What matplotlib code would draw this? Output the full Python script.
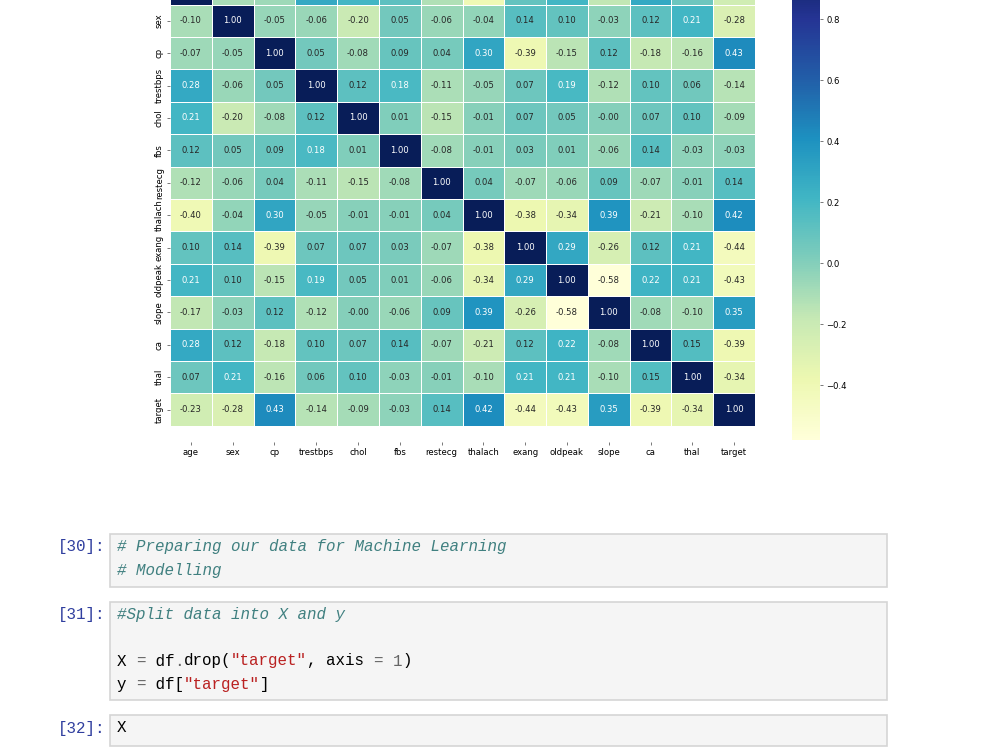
import numpy as np
import pandas as pd
import matplotlib
matplotlib.use("Agg")
import matplotlib.pyplot as plt
import seaborn as sns
from matplotlib.patches import Rectangle


# -------------------------------------------------
# Data: correlation matrix of the heart disease dataset
# -------------------------------------------------
features = ["age", "sex", "cp", "trestbps", "chol", "fbs", "restecg",
            "thalach", "exang", "oldpeak", "slope", "ca", "thal", "target"]

age_row      = [1.00, -0.10, -0.07, 0.28, 0.21, 0.12, -0.12, -0.40, 0.10, 0.21, -0.17, 0.28, 0.07, -0.23]
sex_row      = [-0.10, 1.00, -0.05, -0.06, -0.20, 0.05, -0.06, -0.04, 0.14, 0.10, -0.03, 0.12, 0.21, -0.28]
cp_row       = [-0.07, -0.05, 1.00, 0.05, -0.08, 0.09, 0.04, 0.30, -0.39, -0.15, 0.12, -0.18, -0.16, 0.43]
trestbps_row = [0.28, -0.06, 0.05, 1.00, 0.12, 0.18, -0.11, -0.05, 0.07, 0.19, -0.12, 0.10, 0.06, -0.14]
chol_row     = [0.21, -0.20, -0.08, 0.12, 1.00, 0.01, -0.15, -0.01, 0.07, 0.05, -0.00, 0.07, 0.10, -0.09]
fbs_row      = [0.12, 0.05, 0.09, 0.18, 0.01, 1.00, -0.08, -0.01, 0.03, 0.01, -0.06, 0.14, -0.03, -0.03]
restecg_row  = [-0.12, -0.06, 0.04, -0.11, -0.15, -0.08, 1.00, 0.04, -0.07, -0.06, 0.09, -0.07, -0.01, 0.14]
thalach_row  = [-0.40, -0.04, 0.30, -0.05, -0.01, -0.01, 0.04, 1.00, -0.38, -0.34, 0.39, -0.21, -0.10, 0.42]
exang_row    = [0.10, 0.14, -0.39, 0.07, 0.07, 0.03, -0.07, -0.38, 1.00, 0.29, -0.26, 0.12, 0.21, -0.44]
oldpeak_row  = [0.21, 0.10, -0.15, 0.19, 0.05, 0.01, -0.06, -0.34, 0.29, 1.00, -0.58, 0.22, 0.21, -0.43]
slope_row    = [-0.17, -0.03, 0.12, -0.12, -0.00, -0.06, 0.09, 0.39, -0.26, -0.58, 1.00, -0.08, -0.10, 0.35]
ca_row       = [0.28, 0.12, -0.18, 0.10, 0.07, 0.14, -0.07, -0.21, 0.12, 0.22, -0.08, 1.00, 0.15, -0.39]
thal_row     = [0.07, 0.21, -0.16, 0.06, 0.10, -0.03, -0.01, -0.10, 0.21, 0.21, -0.10, 0.15, 1.00, -0.34]
target_row   = [-0.23, -0.28, 0.43, -0.14, -0.09, -0.03, 0.14, 0.42, -0.44, -0.43, 0.35, -0.39, -0.34, 1.00]

corr_matrix = pd.DataFrame(
    [age_row, sex_row, cp_row, trestbps_row, chol_row, fbs_row, restecg_row,
     thalach_row, exang_row, oldpeak_row, slope_row, ca_row, thal_row, target_row],
    index=features, columns=features,
)

# notebook cells shown under the plot
prompts = ["[30]:", "[31]:", "[32]:"]
cell_30 = [[("# Preparing our data for Machine Learning", "comment")],
           [("# Modelling", "comment")]]
cell_31 = [[("#Split data into X and y", "comment")],
           [],
           [("X ", "code"), ("=", "op"), (" df", "code"), (".", "op"), ("drop(", "code"),
            ('"target"', "str"), (", axis ", "code"), ("=", "op"), (" ", "code"),
            ("1", "op"), (")", "code")],
           [("y ", "code"), ("=", "op"), (" df[", "code"), ('"target"', "str"), ("]", "code")]]
cell_32 = [[("X", "code")]]


# -------------------------------------------------
# Heatmap
# -------------------------------------------------
fig = plt.figure(figsize=(10, 7.5), dpi=100)
W, H = 1000, 750


def fig_box(x0, y0, x1, y1):
    # pixel box (top-left origin) -> figure fraction [left, bottom, width, height]
    return [x0 / W, 1 - y1 / H, (x1 - x0) / W, (y1 - y0) / H]


ax = fig.add_axes(fig_box(170, -44, 755, 442))
cax = fig.add_axes(fig_box(792, -42, 820, 440))

sns.heatmap(corr_matrix, annot=True, fmt=".2f", cmap="YlGnBu",
            linewidths=0.6, ax=ax, cbar_ax=cax,
            annot_kws={"fontsize": 6.1})

# the usual half-cell fix for the cut off top/bottom rows
bottom, top = ax.get_ylim()
ax.set_ylim(bottom + 0.5, top - 0.5)

ax.tick_params(labelsize=6.1, length=2.2, width=0.5, pad=2.2, color="#444444")
plt.setp(ax.get_yticklabels(), rotation=90, va="center")
plt.setp(ax.get_xticklabels(), rotation=0)
cax.tick_params(labelsize=6.1, length=2.2, width=0.5, pad=2.2, color="#444444")


# -------------------------------------------------
# Notebook cells
# -------------------------------------------------
mono = ["Liberation Mono", "DejaVu Sans Mono"]
fs = 11.4
char_w = 9.5
line_h = 23.0
colors = {"comment": "#408080", "code": "#000000", "op": "#666666", "str": "#BA2121"}

cells = [(cell_30, 534, 587), (cell_31, 602, 700), (cell_32, 715, 746)]
for prompt, (lines, top_px, bot_px) in zip(prompts, cells):
    fig.patches.append(Rectangle((110 / W, 1 - bot_px / H), (887 - 110) / W,
                                 (bot_px - top_px) / H, transform=fig.transFigure,
                                 facecolor="#f5f5f5", edgecolor="#d5d5d5", lw=1.2))
    first_y = top_px + 13
    fig.text(58 / W, 1 - first_y / H, prompt, family=mono, fontsize=fs,
             color="#303F9F", va="center", ha="left")
    for i, tokens in enumerate(lines):
        y = first_y + i * line_h
        n = 0
        for txt, kind in tokens:
            fig.text((117 + n * char_w) / W, 1 - y / H, txt, family=mono,
                     fontsize=fs, color=colors[kind], va="center", ha="left",
                     style="italic" if kind == "comment" else "normal")
            n += len(txt)

fig.savefig("out.png", dpi=100)
